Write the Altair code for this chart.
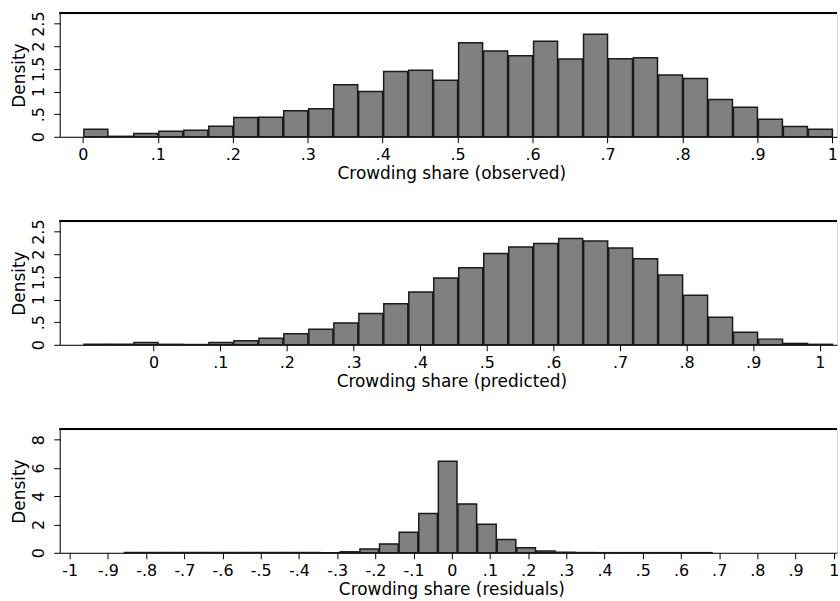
import altair as alt
import numpy as np
import pandas as pd

# ---------------- data ----------------
n_bins = 30

obs_range = (0.0, 1.0)
obs_density = [0.168, 0.01, 0.073, 0.124, 0.146, 0.234, 0.424, 0.431, 0.577, 0.621,
               1.148, 1.001, 1.44, 1.469, 1.25, 2.076, 1.893, 1.791, 2.113, 1.718,
               2.266, 1.725, 1.747, 1.367, 1.287, 0.826, 0.651, 0.387, 0.227, 0.168]

pred_range = (-0.106, 1.019)
pred_density = [0.01, 0.01, 0.05, 0.01, 0.005, 0.05, 0.088, 0.147, 0.242, 0.345,
                0.484, 0.689, 0.909, 1.166, 1.474, 1.701, 2.016, 2.163, 2.236, 2.346,
                2.295, 2.141, 1.899, 1.54, 1.092, 0.609, 0.279, 0.125, 0.03, 0.01]

resid_range = (-0.859, 0.681)
resid_density = [0.02, 0.02, 0.02, 0.02, 0.02, 0.02, 0.02, 0.02, 0.02, 0.02,
                 0.005, 0.07, 0.27, 0.63, 1.45, 2.78, 6.47, 3.46, 2.02, 0.94,
                 0.35, 0.13, 0.04, 0.015, 0.01, 0.01, 0.01, 0.01, 0.01, 0.01]

share_ticks = [0, 0.1, 0.2, 0.3, 0.4, 0.5, 0.6, 0.7, 0.8, 0.9, 1]
resid_ticks = [-1, -0.9, -0.8, -0.7, -0.6, -0.5, -0.4, -0.3, -0.2, -0.1,
               0, 0.1, 0.2, 0.3, 0.4, 0.5, 0.6, 0.7, 0.8, 0.9, 1]
dens_ticks_small = [0, 0.5, 1, 1.5, 2, 2.5]
dens_ticks_large = [0, 2, 4, 6, 8]

titles = ["Crowding share (observed)", "Crowding share (predicted)",
          "Crowding share (residuals)"]

# ---------------- layout ----------------
W = 781
H = 124
FONT = "DejaVu Sans"
LBL = ("datum.value == 0 ? '0' : (datum.value < 0 ? '-' : '') + "
       "replace(format(abs(datum.value), '.1~f'), '0.', '.')")


def panel(rng, dens, xdom, xticks, ydom, yticks, xtitle):
    edges = np.linspace(rng[0], rng[1], n_bins + 1)
    df = pd.DataFrame({"start": edges[:-1], "end": edges[1:], "density": dens})

    x_axis = alt.Axis(values=xticks, labelExpr=LBL, title=xtitle, grid=False,
                      tickSize=6, labelPadding=4, labelFontSize=16,
                      labelOverlap=False, labelFlush=False,
                      titleFontSize=17, titleFontWeight="normal",
                      titleX=393.5, titleY=41.5, titleBaseline="alphabetic",
                      titleAlign="center",
                      domainColor="black", tickColor="black",
                      labelColor="black", titleColor="black")
    y_axis = alt.Axis(values=yticks, labelExpr=LBL, title="Density", grid=False,
                      tickSize=6, labelPadding=15.5, labelFontSize=16,
                      labelAngle=270, labelAlign="center", labelBaseline="middle",
                      labelOverlap=False, labelFlush=False,
                      titleFontSize=17, titleFontWeight="normal",
                      titleAngle=270, titleX=-40, titleY=H / 2,
                      titleBaseline="middle", titleAlign="center",
                      domainColor="black", tickColor="black",
                      labelColor="black", titleColor="black")

    bars = alt.Chart(df).mark_bar(
        fill="#808080", stroke="#1a1a1a", strokeWidth=1.5, binSpacing=1
    ).encode(
        x=alt.X("start:Q", bin="binned", scale=alt.Scale(domain=xdom, nice=False, zero=False),
                axis=x_axis),
        x2="end:Q",
        y=alt.Y("density:Q", scale=alt.Scale(domain=ydom, nice=False), axis=y_axis),
    )
    top = alt.Chart(df).mark_rule(color="black", strokeWidth=1).encode(
        x=alt.value(0), x2=alt.value(W), y=alt.value(0)
    )
    return alt.layer(bars, top).properties(width=W, height=H)


p1 = panel(obs_range, obs_density, [-0.0309, 1.0062], share_ticks,
           [0, 2.727], dens_ticks_small, titles[0])
p2 = panel(pred_range, pred_density, [-0.1410, 1.0258], share_ticks,
           [0, 2.727], dens_ticks_small, titles[1])
p3 = panel(resid_range, resid_density, [-1.0262, 1.0084], resid_ticks,
           [0, 8.73], dens_ticks_large, titles[2])

chart = alt.vconcat(p1, p2, p3, spacing=85, bounds="flush").properties(
    padding={"left": 10, "top": 9, "right": 0, "bottom": 0},
    background="white",
).configure_view(stroke=None).configure(font=FONT)

chart.save("out.html", embed_options={"renderer": "svg", "actions": False})
